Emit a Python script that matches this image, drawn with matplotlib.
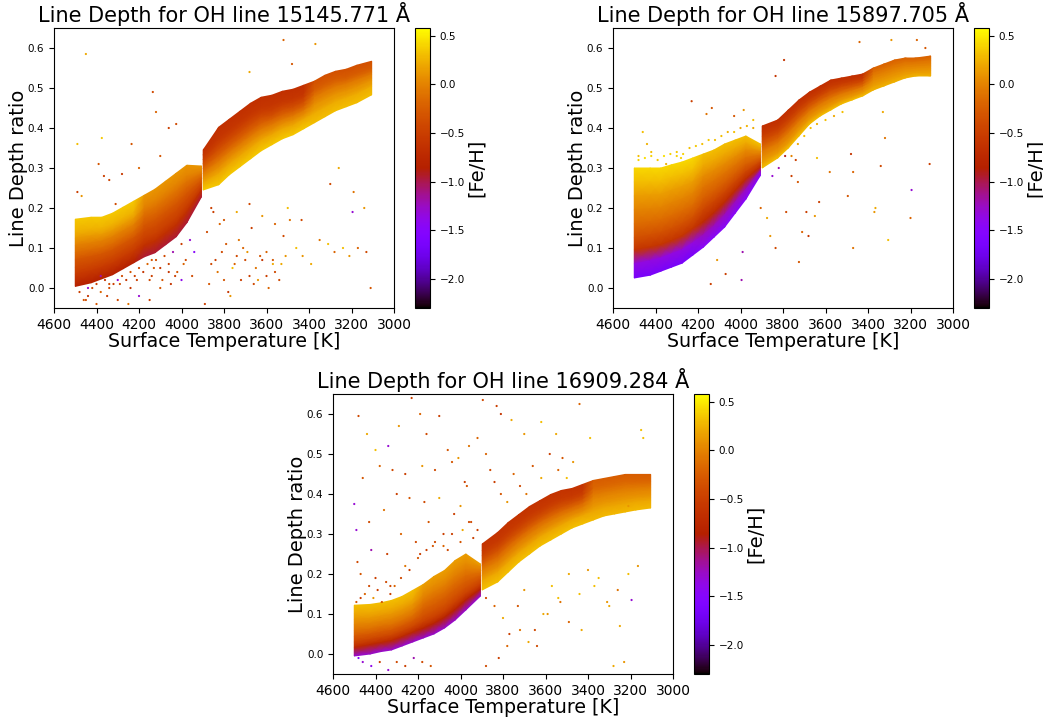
from matplotlib import pyplot as plt
import numpy as np

# all values: the dense clouds are read as
# 9 depth levels per temperature column, stray dots are read one by one
temps = [4500, 4425, 4375, 4325, 4275, 4225, 4175, 4125, 4075, 4025, 3975, 3906,
         3898, 3825, 3775, 3725, 3675, 3625, 3575, 3525, 3475, 3425, 3375, 3325, 3275, 3225, 3175, 3105]

band_1 = [
    [.172, .142, .124, .106, .088, .070, .052, .034, .004],
    [.177, .147, .130, .112, .095, .078, .060, .043, .013],
    [.177, .149, .133, .117, .100, .084, .068, .051, .023],
    [.187, .159, .143, .127, .110, .094, .078, .061, .033],
    [.202, .174, .158, .142, .125, .109, .093, .076, .048],
    [.217, .189, .173, .157, .140, .124, .108, .091, .063],
    [.232, .204, .188, .172, .155, .139, .123, .106, .078],
    [.247, .218, .201, .184, .168, .151, .134, .117, .088],
    [.267, .238, .221, .204, .188, .171, .154, .137, .108],
    [.287, .258, .241, .224, .208, .191, .174, .157, .128],
    [.307, .280, .265, .250, .235, .220, .205, .190, .163],
    [.305, .292, .284, .276, .268, .260, .252, .244, .228],
    [.345, .332, .321, .310, .298, .286, .274, .262, .245],
    [.402, .375, .360, .345, .330, .315, .300, .285, .258],
    [.422, .396, .382, .367, .352, .338, .324, .309, .283],
    [.442, .416, .402, .387, .372, .358, .344, .329, .303],
    [.462, .436, .422, .407, .392, .378, .364, .349, .323],
    [.477, .451, .437, .424, .410, .396, .382, .369, .343],
    [.482, .457, .443, .430, .420, .407, .394, .382, .358],
    [.492, .468, .456, .444, .432, .420, .409, .397, .373],
    [.497, .474, .463, .451, .440, .429, .418, .406, .383],
    [.507, .484, .474, .463, .452, .442, .431, .421, .398],
    [.517, .495, .485, .475, .465, .455, .445, .435, .413],
    [.532, .510, .500, .490, .480, .470, .460, .450, .428],
    [.542, .521, .511, .502, .492, .483, .474, .464, .443],
    [.547, .526, .517, .509, .500, .491, .483, .474, .453],
    [.557, .536, .527, .519, .510, .501, .493, .484, .463],
    [.567, .548, .540, .533, .525, .518, .510, .503, .483],
]
band_2 = [
    [.300, .265, .230, .195, .160, .125, .095, .060, .025],
    [.300, .266, .232, .198, .165, .132, .102, .068, .032],
    [.300, .267, .234, .201, .170, .138, .108, .075, .042],
    [.308, .276, .244, .212, .180, .148, .118, .085, .052],
    [.315, .284, .253, .222, .192, .160, .130, .095, .062],
    [.325, .295, .265, .236, .206, .176, .148, .112, .082],
    [.335, .306, .278, .250, .222, .194, .165, .132, .102],
    [.345, .319, .293, .267, .241, .215, .188, .155, .127],
    [.360, .335, .310, .286, .262, .238, .214, .182, .152],
    [.370, .349, .327, .306, .285, .264, .243, .214, .187],
    [.380, .362, .344, .326, .308, .290, .272, .246, .222],
    [.360, .350, .341, .332, .323, .314, .303, .292, .282],
    [.405, .392, .379, .366, .353, .340, .327, .314, .300],
    [.420, .408, .396, .384, .372, .360, .348, .336, .325],
    [.445, .433, .421, .409, .397, .385, .373, .361, .350],
    [.470, .459, .448, .437, .425, .414, .403, .392, .380],
    [.490, .480, .470, .460, .450, .440, .430, .420, .410],
    [.505, .496, .486, .477, .468, .458, .449, .439, .430],
    [.520, .511, .501, .492, .482, .473, .464, .454, .445],
    [.525, .517, .509, .501, .492, .484, .476, .468, .460],
    [.530, .522, .515, .507, .500, .492, .485, .477, .470],
    [.535, .528, .521, .514, .507, .501, .494, .487, .480],
    [.550, .543, .536, .529, .522, .516, .509, .502, .495],
    [.560, .553, .546, .539, .532, .526, .519, .512, .505],
    [.570, .563, .556, .549, .542, .536, .529, .522, .515],
    [.575, .569, .563, .556, .550, .544, .538, .531, .525],
    [.575, .569, .564, .558, .552, .547, .541, .536, .530],
    [.580, .574, .568, .561, .555, .549, .543, .536, .530],
]
band_3 = [
    [.122, .101, .087, .073, .058, .044, .030, .016, -.005],
    [.124, .102, .089, .076, .062, .049, .036, .023, .000],
    [.128, .107, .094, .081, .068, .054, .041, .028, .006],
    [.134, .112, .099, .086, .072, .059, .046, .033, .010],
    [.144, .122, .109, .096, .082, .069, .056, .043, .020],
    [.159, .136, .123, .109, .095, .081, .067, .054, .030],
    [.174, .151, .136, .122, .108, .093, .079, .064, .040],
    [.194, .169, .154, .138, .122, .107, .091, .076, .050],
    [.209, .184, .169, .153, .138, .122, .106, .091, .065],
    [.234, .209, .193, .176, .160, .144, .128, .111, .085],
    [.250, .225, .210, .195, .180, .165, .150, .135, .110],
    [.225, .218, .210, .202, .194, .186, .174, .162, .145],
    [.275, .258, .245, .232, .220, .208, .195, .182, .160],
    [.304, .282, .269, .256, .242, .229, .216, .203, .180],
    [.329, .307, .294, .281, .268, .254, .241, .228, .205],
    [.349, .328, .315, .302, .290, .278, .265, .252, .230],
    [.369, .348, .335, .322, .310, .298, .285, .272, .250],
    [.384, .363, .351, .339, .328, .316, .304, .292, .270],
    [.399, .378, .366, .354, .342, .331, .319, .307, .285],
    [.409, .389, .378, .366, .355, .344, .333, .321, .300],
    [.414, .395, .385, .375, .365, .355, .345, .335, .315],
    [.424, .405, .395, .385, .375, .365, .355, .345, .325],
    [.434, .415, .405, .395, .385, .375, .365, .355, .335],
    [.439, .421, .411, .402, .392, .383, .374, .364, .345],
    [.444, .426, .416, .407, .398, .388, .379, .369, .350],
    [.449, .431, .421, .412, .402, .393, .384, .374, .355],
    [.449, .431, .422, .414, .405, .396, .388, .379, .360],
    [.449, .432, .424, .416, .408, .399, .391, .383, .365],
]

# metallicity of the 9 levels, top to bottom, by stretch of the temperature axis
feh_hot_1 = [.35, .25, .12, -.02, -.15, -.3, -.42, -.55, -.85]
feh_hot_2 = [.42, .3, .15, 0, -.15, -.35, -.6, -1.35, -1.65]
feh_hot_3 = [.3, .2, .1, 0, -.12, -.28, -.45, -.75, -1.3]
feh_near_1 = [.1, 0, -.1, -.2, -.3, -.4, -.5, -.65, -.95]
feh_near_2 = [.3, .2, .05, -.1, -.25, -.45, -.7, -1.25, -1.5]
feh_near_3 = [.15, .05, -.05, -.15, -.25, -.35, -.5, -.8, -1.3]
feh_cool_1 = [-.65, -.58, -.48, -.35, -.2, -.05, .08, .2, .35]
feh_cool_2 = [-.65, -.6, -.5, -.35, -.2, -.05, .05, .15, .3]
feh_cool_3 = [-.62, -.55, -.45, -.3, -.15, -.02, .08, .2, .32]
feh_far_1 = [-.35, -.25, -.15, -.05, .02, .1, .15, .22, .3]
feh_far_2 = [-.2, -.15, -.08, -.02, .03, .08, .12, .18, .25]
feh_far_3 = [-.25, -.18, -.1, -.03, .03, .08, .14, .2, .28]

stray_t_1 = [4450, 4490, 4375, 4135, 4120, 4060, 4025, 4235, 4280, 4365, 4340, 4490, 4470, 4390, 4310, 4200, 4100, 4450, 4400, 4350, 4300, 4250, 4200, 4150, 4100, 4050, 4000, 3950, 4380, 4290, 4210, 4130, 4060, 3990, 3940, 4440, 4340, 4240, 4140, 3890, 3860, 3830, 3800, 3770, 3740, 3710, 3680, 3650, 3620, 3590, 3560, 3530, 3880, 3850, 3820, 3790, 3760, 3730, 3700, 3670, 3640, 3600, 3570, 3520, 3490, 3460, 3430, 3390, 3350, 3310, 3280, 3240, 3210, 3170, 3130, 3110, 3195, 3435, 3260, 3190, 3140, 3680, 3480, 3520, 3370, 3300,
             4480, 4460, 4440, 4420, 4400, 4380, 4360, 4340, 4320, 4300,
             4280, 4260, 4240, 4220, 4200, 4180, 4160, 4140, 4120, 4100,
             4080, 4060, 4040, 4020, 4000, 3980, 3960, 4150, 4090, 4030,
             3870, 3840, 3810, 3780, 3750, 3720, 3690, 3660, 3630, 3600,
             3570, 3540, 3510, 3860, 3800, 3740, 3680, 3620, 3560, 3500]
stray_d_1 = [.585, .36, .375, .49, .44, .40, .41, .36, .285, .28, .27, .24, .23, .31, .21, .30, .33, -.03, -.04, -.02, -.03, -.04, -.02, -.03, 0, .01, .02, .03, .03, .01, .02, .05, .04, .06, .09, 0, .01, 0, .07, -.04, .06, .04, .02, -.02, .08, .10, .03, .05, .07, 0, .04, .06, .14, .19, .16, .11, .05, .12, .07, .15, .02, .09, .06, .13, .17, .10, .08, .06, .12, .11, .09, .10, .08, .10, .09, .0, .19, .17, .30, .24, .20, .54, .56, .62, .61, .26,
             -.01, -.03, -.02, 0, .01, -.01, .02, .0, .01, .02,
             .03, .02, .04, .03, .05, .04, .06, .03, .07, .05,
             .08, .06, .09, .04, .11, .07, .12, .02, .02, .03,
             .01, .07, .09, -.01, .06, .02, .09, .01, .08, .03,
             .07, .02, .08, .20, .17, .19, .21, .18, .16, .2]
stray_f_1 = [.2, .3, .35, -.4, -.2, -.5, -.4, -.3, -.55, -.5, -.45, -.5, .1, -.3, -.4, -.2, -.3, -.4, -.3, -.5, -.4, -.1, -1.3, -.5, -.3, -.6, -1.4, -.4, -1.2, -.4, -.5, -.3, -.6, -.2, -1.5, -1.3, -.4, -.6, -.3, -.5, -.4, -.1, -.3, .1, -.4, -.2, -.5, -.1, -.6, -.2, -.4, .2, -.4, -.5, -.2, -.3, .3, -.1, -.4, -.5, .1, -.2, .2, -.4, -.1, .3, .1, .2, -.1, .3, -.2, .3, .1, -.2, -.4, -.3, -1.3, -.4, .2, -.1, .1, .2, -.3, -.2, .1, -.4,
             -.5, -.3, -.6, -.4, -.5, -.2, -.6, -.4, -.5, -1.3,
             -.4, -.6, -.3, -.5, -.4, -.6, -.2, -.5, -.4, -.6,
             -.4, -.5, -1.2, -.3, -.5, -.4, -1.3, -.4, -.3, -.5,
             -.3, -.5, -.4, -.6, -.2, -.5, .1, -.4, -.3, -.5,
             -.3, -.4, .1, -.5, -.3, .2, -.4, .1, -.2, .3]

stray_t_2 = [4460, 4440, 4300, 4230, 4135, 4160, 4030, 3985, 3940, 4480, 4420, 4350, 4280, 4140, 4070, 3995, 4110, 3990, 3835, 3795, 3440, 3290, 3130, 3170, 3195, 3340, 3480, 3640, 3365, 3370, 3200, 3305, 3470, 3725, 3710, 3835, 3860, 3875, 3905, 3785, 3760, 3730, 3690, 3680, 3650, 3630, 3580, 3495, 3110, 3320, 3330, 3470, 3740,
             4480, 4450, 4420, 4390, 4360, 4330, 4300, 4270, 4240, 4210,
             4180, 4150, 4120, 4090, 4060, 4030, 4000, 3970, 3940, 3850,
             3820, 3790, 3760, 3730, 3700, 3670, 3640, 3600, 3560, 3520]
stray_d_2 = [.39, .36, .33, .467, .45, .435, .43, .445, .42, .33, .34, .31, .325, .01, .035, .02, .07, .09, .53, .57, .615, .62, .60, .62, .245, .305, .335, .325, .2, .19, .175, .12, .10, .065, .14, .1, .13, .175, .2, .19, .28, .265, .19, .13, .18, .215, .29, .23, .31, .375, .44, .29, .32,
             .32, .325, .33, .32, .33, .335, .34, .335, .35, .355,
             .36, .37, .37, .38, .39, .39, .4, .405, .4, .28,
             .30, .33, .33, .36, .38, .40, .41, .42, .43, .44]
stray_f_2 = [.3, .25, .4, -.5, -.3, -.1, -.3, .1, .3, .3, .3, .25, .4, -.5, -.5, -1.2, .1, -1.2, -.6, -.6, -.2, .1, -.3, -.2, -1.3, -.4, -.6, .3, .2, .1, -.2, .3, -.1, -.3, -.2, -.4, .1, .2, -.2, -.4, -.5, -.3, -.5, -.6, .1, -.5, -.1, -.3, -.5, -.1, .2, -.2, -.5,
             .4, .45, .4, .35, .45, .4, .35, .4, .3, .35,
             .3, .35, .3, .3, .25, .3, .2, .25, .2, -1.3,
             -1.2, -.9, .0, .2, .3, .3, .25, .3, .2, .3]

stray_t_3 = [4480, 4440, 4400, 4340, 4290, 4230, 4190, 4160, 4100, 4060,
             4010, 3960, 3895, 3830, 3810, 3760, 3700, 3620, 3550, 3520,
             3440, 3390, 3150, 3140, 3210, 4500, 4460, 4380, 4320, 4260,
             4180, 4120, 4040, 3980, 3920, 4490, 4430, 4360, 4300, 4240,
             4170, 4100, 4030, 3970, 4485, 4420, 4345, 4280, 4210, 4150,
             4080, 4000, 3950, 4470, 4400, 4330, 4260, 4190, 4130, 4060,
             3990, 3940, 3880, 3860, 3840, 3810, 3780, 3750, 3720, 3690,
             3660, 3620, 3580, 3540, 3500, 3470, 3880, 3840, 3800, 3770,
             3730, 3700, 3650, 3610, 3570, 3530, 3490, 3440, 3400, 3350,
             3300, 3260, 3210, 3165, 3880, 3820, 3780, 3720, 3680, 3640,
             3590, 3540, 3490, 3430, 3370, 3310, 3250, 3195, 3280, 3230,
             4490, 4470, 4450, 4430, 4410, 4390, 4370, 4350, 4330, 4310,
             4480, 4460, 4420, 4380, 4340, 4300, 4260, 4220, 4180, 4140,
             4280, 4240, 4200, 4160, 4120, 4080, 4040, 4000, 3960, 3920]
stray_d_3 = [.595, .55, .51, .52, .57, .64, .60, .55, .595, .51,
             .49, .52, .635, .62, .60, .585, .55, .58, .55, .49,
             .625, .54, .56, .54, .37, .375, .44, .47, .46, .45,
             .47, .46, .48, .43, .54, .31, .33, .36, .40, .39,
             .38, .39, .35, .42, .23, .26, .25, .30, .28, .33,
             .30, .37, .33, .20, .19, .17, .22, .25, .27, .26,
             .31, .29, .50, .46, .43, .40, .38, .45, .42, .40,
             .47, .44, .50, .46, .44, .48, .14, .12, .09, .05,
             .12, .16, .06, .10, .17, .13, .20, .15, .21, .19,
             .12, .16, .20, .22, -.03, -.01, .02, .06, .03, .02,
             .10, .14, .08, .06, .17, .13, .07, .135, -.03, -.02,
             .13, .14, .15, .17, .14, .16, .13, .18, .15, .17,
             -.01, -.02, -.03, -.02, -.04, -.02, -.03, -.01, -.02, -.03,
             .19, .21, .24, .26, .28, .27, .30, .28, .33, .31]
stray_f_3 = [-.4, .2, .3, -1.3, .1, -.5, -.2, -.4, -.5, -.3,
             .1, -.1, -.4, -.5, -.6, .2, .1, .3, .2, -.3,
             -.2, .3, .3, .3, .1, -1.3, -.3, -.2, -.4, -.5,
             .1, -.4, -.3, -.5, -.2, -1.3, -.4, -.1, -.5, -.3,
             -.4, .2, -.5, -.3, -.4, -1.2, -.5, -.2, -.4, -.3,
             -.5, .1, -.4, -.3, -.5, -.4, -.1, -.5, -.3, -.4,
             .2, -.5, -.2, -.4, -.5, -.3, .1, -.2, -.4, -.1,
             -.3, .2, -.5, -.2, .3, .1, -.4, -.2, .2, -.5,
             -.3, .1, -.4, .2, .3, -.1, .2, .3, .1, .3,
             .2, -.1, .3, .1, -.4, -.5, -.2, -.1, .2, -.4,
             .1, .3, -.2, .2, .3, .1, .2, -1.3, .2, .1,
             -.3, -.5, -.2, -.4, .1, -.5, -.3, -.4, -.5, -.2,
             -1.5, -1.3, -1.4, -.5, -1.3, -.4, -.5, -1.2, -.4, -.3,
             -.4, -.5, -.3, -.5, -.4, -.2, -.5, -.3, -.4, -.5]

titles = ['Line Depth for OH line 15145.771 Å', 'Line Depth for OH line 15897.705 Å', 'Line Depth for OH line 16909.284 Å']
x_ticks = [4600, 4400, 4200, 4000, 3800, 3600, 3400, 3200, 3000]
y_ticks = [0.0, 0.1, 0.2, 0.3, 0.4, 0.5, 0.6]
cbar_ticks = [0.5, 0.0, -0.5, -1.0, -1.5, -2.0]

W, H = 1043, 719
fig = plt.figure(figsize=(W / 100, H / 100), dpi=100)


def panel(px, py, title, band, feh_sets, stray_t, stray_d, stray_f):
    ax = fig.add_axes([px / W, 1 - (py + 280) / H, 340 / W, 280 / H])
    cax = fig.add_axes([(px + 361) / W, 1 - (py + 280) / H, 15 / W, 280 / H])
    feh_hot, feh_near, feh_cool, feh_far = feh_sets
    fehs = []
    for t in temps:
        if t > 4200:
            fehs.append(feh_hot)
        elif t > 3900:
            fehs.append(feh_near)
        elif t > 3400:
            fehs.append(feh_cool)
        else:
            fehs.append(feh_far)
    x = np.array(temps)[:, None] * np.ones((1, 9))
    y = np.array(band)
    c = np.array(fehs)
    # hot and cool side apart, the cloud jumps at 3900 K
    for part in (slice(0, 12), slice(12, 28)):
        mesh = ax.pcolormesh(x[part], y[part], c[part], shading='gouraud', cmap='gnuplot', vmin=-2.3, vmax=0.58)
    ax.scatter(stray_t, stray_d, c=stray_f, s=2.5, cmap='gnuplot', vmin=-2.3, vmax=0.58, linewidths=0)
    ax.set_xlim(4600, 3000)
    ax.set_ylim(-0.05, 0.65)
    ax.set_xticks(x_ticks)
    ax.set_yticks(y_ticks)
    ax.tick_params(axis='x', labelsize=10)
    ax.tick_params(axis='y', labelsize=7.5)
    ax.set_title(title, fontsize=15, pad=4)
    ax.set_xlabel('Surface Temperature [K]', fontsize=13.7, labelpad=0)
    ax.set_ylabel('Line Depth ratio', fontsize=14, labelpad=0)
    cb = fig.colorbar(mesh, cax=cax)
    cb.set_ticks(cbar_ticks)
    cb.ax.tick_params(labelsize=7.5)
    cb.set_label('[Fe/H]', fontsize=14, labelpad=1)


panel(54, 28, titles[0], band_1, (feh_hot_1, feh_near_1, feh_cool_1, feh_far_1), stray_t_1, stray_d_1, stray_f_1)
panel(613, 28, titles[1], band_2, (feh_hot_2, feh_near_2, feh_cool_2, feh_far_2), stray_t_2, stray_d_2, stray_f_2)
panel(333, 394, titles[2], band_3, (feh_hot_3, feh_near_3, feh_cool_3, feh_far_3), stray_t_3, stray_d_3, stray_f_3)

plt.savefig('out.png', dpi=100)
